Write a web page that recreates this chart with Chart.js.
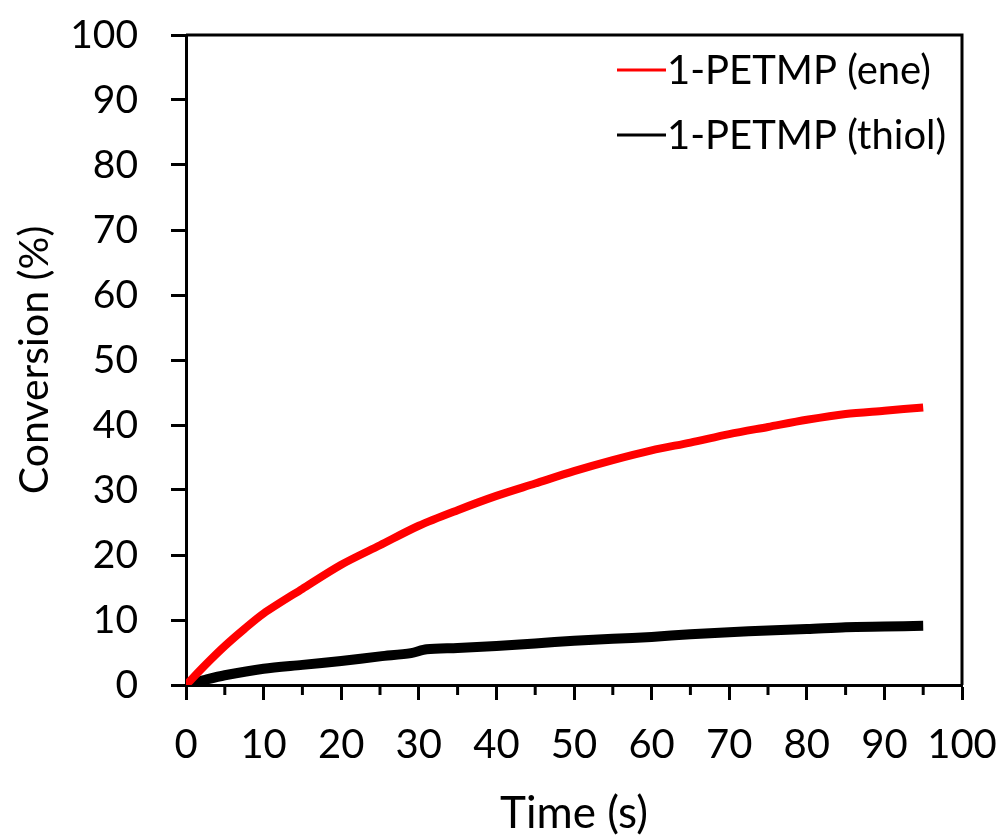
<!DOCTYPE html>
<html>
<head>
<meta charset="utf-8">
<script src="https://cdn.jsdelivr.net/npm/chart.js@4.4.1/dist/chart.umd.min.js"></script>
<style>
  html, body { margin: 0; padding: 0; background: #fff; }
  #wrap { width: 1005px; height: 840px; }
</style>
</head>
<body>
<div id="wrap"><canvas id="grafico"></canvas></div>
<script>
// Time (s)
const tiempoEne = [0, 2.5, 5, 7.5, 10, 15, 20, 25, 30, 35, 40, 45, 50, 55, 60, 65, 70, 75, 80, 85, 90, 95];
const conversionEne = [0, 3.1, 6.0, 8.6, 11.0, 14.8, 18.5, 21.5, 24.5, 26.9, 29.1, 31.0, 32.9, 34.6, 36.1, 37.3, 38.6, 39.7, 40.8, 41.7, 42.2, 42.7];

const tiempoThiol = [0, 2.5, 5, 10, 15, 20, 25, 29, 31, 35, 40, 45, 50, 55, 60, 65, 70, 75, 80, 85, 90, 95];
const conversionThiol = [0, 0.8, 1.5, 2.5, 3.1, 3.7, 4.4, 4.9, 5.5, 5.7, 6.0, 6.4, 6.8, 7.1, 7.4, 7.8, 8.1, 8.4, 8.6, 8.9, 9.0, 9.1];

const etiquetas = ["1-PETMP (ene)", "1-PETMP (thiol)"];
const colores = ["#ff0000", "#000000"];

const ticksMenoresX = [5, 15, 25, 35, 45, 55, 65, 75, 85, 95];

const fuente = "Lato, 'Open Sans', sans-serif";

function puntos(xs, ys) {
  return xs.map((x, i) => ({ x: x, y: ys[i] }));
}

// box around the plot, minor x ticks and the legend
const extras = {
  id: "extras",
  afterDraw(chart) {
    const ctx = chart.ctx;
    const a = chart.chartArea;
    const sx = chart.scales.x;
    ctx.save();
    ctx.strokeStyle = "#000";
    ctx.lineWidth = 3;
    ctx.beginPath();
    ctx.moveTo(a.left, a.top);
    ctx.lineTo(a.right, a.top);
    ctx.lineTo(a.right, a.bottom);
    ctx.stroke();

    ticksMenoresX.forEach(v => {
      const px = sx.getPixelForValue(v);
      ctx.beginPath();
      ctx.moveTo(px, a.bottom);
      ctx.lineTo(px, a.bottom + 10);
      ctx.stroke();
    });

    // legend
    ctx.font = "40px " + fuente;
    ctx.textBaseline = "middle";
    ctx.textAlign = "left";
    chart.data.datasets.forEach((ds, i) => {
      const y = 70 + i * 65;
      ctx.strokeStyle = ds.borderColor;
      ctx.lineWidth = 3;
      ctx.beginPath();
      ctx.moveTo(617, y);
      ctx.lineTo(666, y);
      ctx.stroke();
      ctx.fillStyle = "#000";
      ctx.fillText(ds.label, 667, y + 1);
    });
    ctx.restore();
  }
};

const ctx = document.getElementById("grafico").getContext("2d");

new Chart(ctx, {
  type: "line",
  data: {
    datasets: [
      {
        label: etiquetas[0],
        data: puntos(tiempoEne, conversionEne),
        borderColor: colores[0],
        borderWidth: 8,
        pointRadius: 0,
        tension: 0.3,
      },
      {
        label: etiquetas[1],
        data: puntos(tiempoThiol, conversionThiol),
        borderColor: colores[1],
        borderWidth: 10,
        pointRadius: 0,
        tension: 0.3,
      },
    ],
  },
  options: {
    responsive: true,
    maintainAspectRatio: false,
    animation: false,
    layout: { padding: { left: 0, right: 43, top: 35, bottom: 0 } },
    plugins: {
      legend: { display: false },
      tooltip: { enabled: false },
    },
    scales: {
      x: {
        type: "linear",
        min: 0,
        max: 100,
        afterFit: s => { s.height = 155; s.paddingLeft = 0; s.paddingRight = 0; },
        ticks: {
          stepSize: 10,
          color: "#000",
          font: { family: fuente, size: 40 },
          padding: 21,
          maxRotation: 0,
        },
        grid: {
          drawOnChartArea: false,
          tickLength: 15,
          tickWidth: 3,
          tickColor: "#000",
        },
        border: { display: true, color: "#000", width: 3 },
        title: {
          display: true,
          text: "Time (s)",
          color: "#000",
          font: { family: fuente, size: 44 },
          padding: { top: 0, bottom: 0 },
        },
      },
      y: {
        min: 0,
        max: 100,
        afterFit: s => { s.width = 186; s.paddingTop = 0; s.paddingBottom = 0; },
        ticks: {
          stepSize: 10,
          color: "#000",
          font: { family: fuente, size: 39 },
          padding: 33,
        },
        grid: {
          drawOnChartArea: false,
          tickLength: 15,
          tickWidth: 3,
          tickColor: "#000",
        },
        border: { display: true, color: "#000", width: 3 },
        title: {
          display: true,
          text: "Conversion (%)",
          color: "#000",
          font: { family: fuente, size: 41 },
          padding: { top: 10, bottom: 0 },
        },
      },
    },
  },
  plugins: [extras],
});
</script>
</body>
</html>
